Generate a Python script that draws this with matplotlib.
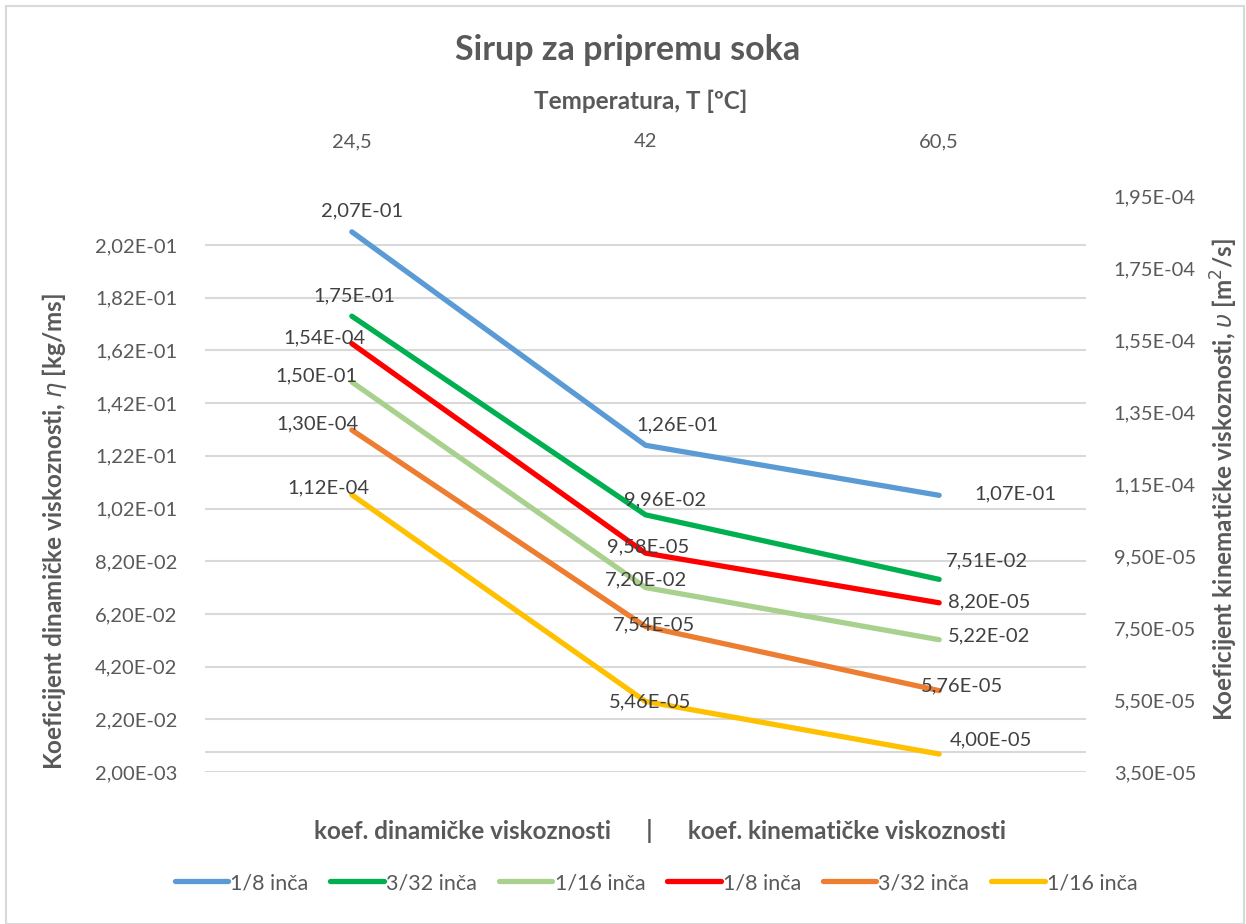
import numpy as np
import matplotlib.pyplot as plt
from matplotlib.lines import Line2D
from matplotlib.patches import Rectangle

plt.rcParams['font.family'] = ['Lato', 'DejaVu Sans']
plt.rcParams['mathtext.fontset'] = 'dejavusans'

# temperatures (category axis)
temps = ['24,5', '42', '60,5']

# dynamic viscosity, kg/ms (left axis)
dyn_18 = [2.07e-01, 1.26e-01, 1.07e-01]
dyn_332 = [1.75e-01, 9.96e-02, 7.51e-02]
dyn_116 = [1.50e-01, 7.20e-02, 5.22e-02]

# kinematic viscosity, m2/s (right axis)
kin_18 = [1.54e-04, 9.58e-05, 8.20e-05]
kin_332 = [1.30e-04, 7.54e-05, 5.76e-05]
kin_116 = [1.12e-04, 5.46e-05, 4.00e-05]

series_names = ['1/8 inča', '3/32 inča', '1/16 inča']

left_ticks = np.arange(0.002, 0.2021, 0.02)
right_ticks = np.arange(3.5e-05, 1.951e-04, 2e-05)

txt = '#595959'
grid = '#D9D9D9'

def fmt(v):
    return ('%.2E' % v).replace('.', ',')

fig = plt.figure(figsize=(12.46, 9.24), dpi=100)
ax = fig.add_axes([205 / 1246, 1 - 772 / 924, 881 / 1246, 576 / 924])
ax2 = ax.twinx()

x = np.arange(len(temps))

ax.set_xlim(-0.5, 2.5)
ax.set_ylim(0.002, 0.2206)
ax2.set_ylim(3.5e-05, 1.95e-04)

for a in (ax, ax2):
    for s in a.spines.values():
        s.set_visible(False)

ax.set_yticks(left_ticks)
ax.set_yticklabels([fmt(v) for v in left_ticks])
ax2.set_yticks(right_ticks)
ax2.set_yticklabels([fmt(v) for v in right_ticks])
ax.tick_params(axis='y', length=0, pad=20, labelsize=14.5, labelcolor=txt)
ax2.tick_params(axis='y', length=0, pad=20, labelsize=14.5, labelcolor=txt)

for v in left_ticks:
    ax.axhline(v, color=grid, lw=1.5, zorder=0)
# horizontal axis line
ax.axhline(0.0096, color=grid, lw=1.5, zorder=0)

ax.set_xticks(x)
ax.set_xticklabels(temps)
ax.tick_params(axis='x', length=0, pad=33, labelsize=14.5, labelcolor=txt,
               bottom=False, labelbottom=False, top=False, labeltop=True)
ax2.tick_params(axis='x', bottom=False, labelbottom=False, top=False, labeltop=False)

lw = 3.8
dyn_series = [(dyn_18, '#5B9BD5'), (dyn_332, '#00B050'), (dyn_116, '#A9D18E')]
kin_series = [(kin_18, '#FF0000'), (kin_332, '#ED7D31'), (kin_116, '#FFC000')]

for vals, c in dyn_series:
    ax.plot(x, vals, color=c, lw=lw, solid_capstyle='round',
            solid_joinstyle='round', zorder=3)
for vals, c in kin_series:
    ax2.plot(x, vals, color=c, lw=lw, solid_capstyle='round',
             solid_joinstyle='round', zorder=3)

# data label offsets in pixels
dyn_off = [[(10, 21), (32, 20), (76, 1)],
           [(3, 20), (20, 15), (48, 19)],
           [(-35, 6), (0, 8), (50, 4)]]
kin_off = [[(-27, 6), (3, 6), (50, 1)],
           [(-34, 6), (8, 2), (23, 5)],
           [(-23, 7), (5, 0), (52, 14)]]

for (vals, c), offs in zip(dyn_series, dyn_off):
    for i, v in enumerate(vals):
        ax.annotate(fmt(v), (x[i], v), xytext=offs[i], textcoords='offset pixels',
                    ha='center', va='center', fontsize=14.5, color='#404040', zorder=5)
for (vals, c), offs in zip(kin_series, kin_off):
    for i, v in enumerate(vals):
        ax2.annotate(fmt(v), (x[i], v), xytext=offs[i], textcoords='offset pixels',
                     ha='center', va='center', fontsize=14.5, color='#404040', zorder=5)

fig.text(628 / 1246, 1 - 50 / 924, 'Sirup za pripremu soka', ha='center', va='center',
         fontsize=24.5, fontweight='bold', color=txt)
fig.text(641 / 1246, 1 - 101 / 924, 'Temperatura, T [ºC]', ha='center', va='center',
         fontsize=17.5, fontweight='bold', color=txt)
fig.text(660 / 1246, 1 - 831 / 924,
         'koef. dinamičke viskoznosti      |      koef. kinematičke viskoznosti',
         ha='center', va='center', fontsize=17.5, fontweight='bold', color=txt)
fig.text(55 / 1246, 1 - 532 / 924, r'Koeficijent dinamičke viskoznosti, $\eta$ [kg/ms]',
         rotation=90, ha='center', va='center', fontsize=17.5, fontweight='bold', color=txt)
fig.text(1224 / 1246, 1 - 480 / 924,
         r'Koeficijent kinematičke viskoznosti, $\upsilon$ [m$^2$/s]',
         rotation=90, ha='center', va='center', fontsize=17.5, fontweight='bold', color=txt)

handles = [Line2D([], [], color=c, lw=lw, solid_capstyle='round')
           for _, c in dyn_series + kin_series]
fig.legend(handles, series_names * 2, loc='center', bbox_to_anchor=(656 / 1246, 1 - 883 / 924),
           ncol=6, frameon=False, fontsize=15.5, labelcolor=txt, handlelength=2.5,
           handletextpad=0.1, columnspacing=1.0)

fig.add_artist(Rectangle((6 / 1246, 0), 1238 / 1246, 1 - 6 / 924, transform=fig.transFigure,
                         fill=False, edgecolor=grid, lw=1.5))

fig.savefig('out.png', dpi=100)
